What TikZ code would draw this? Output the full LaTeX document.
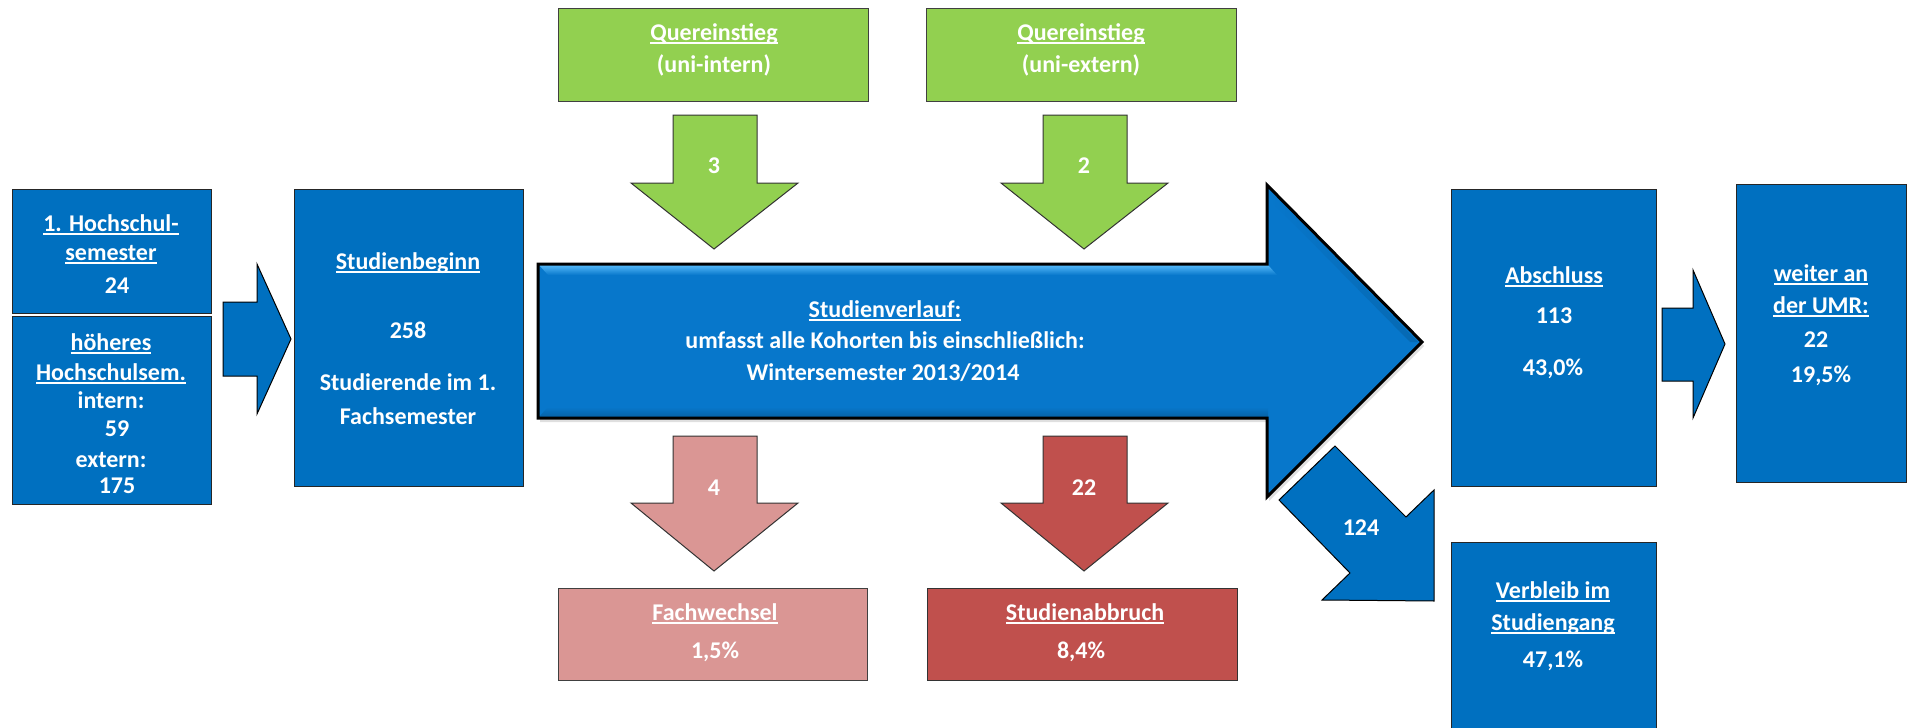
\documentclass[tikz,border=0pt]{standalone}
\usepackage{fontspec}
\setmainfont{Carlito}
\usetikzlibrary{shadows}
\definecolor{boxblue}{HTML}{0070C0}
\definecolor{arrowblue}{HTML}{0777CB}
\definecolor{hiblue}{HTML}{55B8F8}
\definecolor{qgreen}{HTML}{92D050}
\definecolor{fpink}{HTML}{DA9694}
\definecolor{sred}{HTML}{C0504D}
\newcommand{\uln}[1]{\setbox0\hbox{#1}\rlap{\rule[-1.8pt]{\wd0}{0.75pt}}\box0}
\begin{document}
\begin{tikzpicture}[x=0.5pt,y=-0.5pt,
  lbl/.style={text=white,font=\bfseries\fontsize{12}{14}\selectfont,anchor=base,inner sep=0pt},
  bbox/.style={fill=boxblue,draw=black!85,line width=0.5pt,inner sep=0pt},
  gbox/.style={fill=qgreen,draw=black!75,line width=0.5pt,inner sep=0pt},
  pbox/.style={fill=fpink,draw=black!75,line width=0.5pt,inner sep=0pt},
  rbox/.style={fill=sred,draw=black!80,line width=0.5pt,inner sep=0pt},
  barrow/.style={fill=boxblue,draw=black,line width=0.5pt,line join=miter},
]
\useasboundingbox (0,0) rectangle (1907,728);

% ---------- boxes ----------
\node[bbox,minimum width=99.5pt,minimum height=62pt] (hs1) at (111.5,251) {};
\node[bbox,minimum width=99.5pt,minimum height=94pt] (hs2) at (111.5,410) {};
\node[bbox,minimum width=114.5pt,minimum height=148.5pt] (beg) at (408.5,337.5) {};
\node[gbox,minimum width=155pt,minimum height=46.5pt] (q1) at (713,54.5) {};
\node[gbox,minimum width=155pt,minimum height=46.5pt] (q2) at (1081,54.5) {};
\node[pbox,minimum width=154.5pt,minimum height=46pt] (fw) at (712.5,634) {};
\node[rbox,minimum width=155pt,minimum height=46pt] (sa) at (1082,634) {};
\node[bbox,minimum width=102.5pt,minimum height=148.5pt] (ab) at (1553.5,337.5) {};
\node[bbox,minimum width=85pt,minimum height=149pt] (wt) at (1821,333) {};
\node[bbox,minimum width=102.5pt,minimum height=109pt] (vb) at (1553.5,651) {};

% ---------- block arrows ----------
\draw[barrow] (223,302) -- (257,302) -- (257,264) -- (291,339) -- (257,414) -- (257,376) -- (223,376) -- cycle;
\draw[barrow] (1662,308) -- (1693,308) -- (1693,270) -- (1725,344) -- (1693,418) -- (1693,381) -- (1662,381) -- cycle;
\draw[fill=qgreen,draw=black!80,line width=0.5pt] (673,115) -- (757,115) -- (757,183) -- (798,183) -- (714,249) -- (631,183) -- (673,183) -- cycle;
\draw[fill=qgreen,draw=black!80,line width=0.5pt] (1043,115) -- (1127,115) -- (1127,183) -- (1168,183) -- (1084,249) -- (1001,183) -- (1043,183) -- cycle;
\draw[fill=fpink,draw=black!80,line width=0.5pt] (673,436) -- (757,436) -- (757,503) -- (798,503) -- (714,571) -- (631,503) -- (673,503) -- cycle;
\draw[fill=sred,draw=black!80,line width=0.5pt] (1043,436) -- (1127,436) -- (1127,503) -- (1168,503) -- (1084,571) -- (1001,503) -- (1043,503) -- cycle;
\draw[barrow] (1279,500) -- (1335,446) -- (1406,517) -- (1434,490) -- (1434,601) -- (1322,600) -- (1350,573) -- cycle;

% big arrow
\path[fill=arrowblue,drop shadow={opacity=0.25,shadow xshift=1pt,shadow yshift=-2pt}]
  (538,264) -- (1267,264) -- (1267,185) -- (1422,342) -- (1267,497) -- (1267,418) -- (538,418) -- cycle;
\shade[top color=hiblue,bottom color=arrowblue] (539,265) -- (1268,265) -- (1277,275) -- (548,275) -- cycle;
\shade[left color=arrowblue,right color=arrowblue!88!black] (1269,190) -- (1418,342) -- (1410,342) -- (1269,199) -- cycle;
\shade[top color=arrowblue,bottom color=arrowblue!82!black] (548,407) -- (1268,407) -- (1268,417) -- (539,417) -- cycle;
\draw[line width=1.5pt,line join=miter]
  (538,264) -- (1267,264) -- (1267,185) -- (1422,342) -- (1267,497) -- (1267,418) -- (538,418) -- cycle;

% ---------- texts ----------
\node[lbl] (t1a) at (111,231) {\uln{1. Hochschul-}};
\node[lbl] (t1b) at (111,260) {\uln{semester}};
\node[lbl] (t1c) at (117,293) {24};
\node[lbl] (t2a) at (111,350) {\uln{höheres}};
\node[lbl] (t2b) at (111,380) {\uln{Hochschulsem.}};
\node[lbl] (t2c) at (111,408) {intern:};
\node[lbl] (t2d) at (117,436) {59};
\node[lbl] (t2e) at (111,467) {extern:};
\node[lbl] (t2f) at (117,493) {175};

\node[lbl] (tba) at (408,269) {\uln{Studienbeginn}};
\node[lbl] (tbb) at (408,338) {258};
\node[lbl] (tbc) at (408,390) {Studierende im 1.};
\node[lbl] (tbd) at (408,424) {Fachsemester};

\node[lbl] (tva) at (885,317) {\uln{Studienverlauf:}};
\node[lbl] (tvb) at (885,348) {umfasst alle Kohorten bis einschließlich:};
\node[lbl] (tvc) at (883,380) {Wintersemester 2013/2014};

\node[lbl] (tq1a) at (714,40) {\uln{Quereinstieg}};
\node[lbl] (tq1b) at (714,72) {(uni-intern)};
\node[lbl] (tq2a) at (1081,40) {\uln{Quereinstieg}};
\node[lbl] (tq2b) at (1081,72) {(uni-extern)};
\node[lbl] (n3) at (714,173) {3};
\node[lbl] (n2) at (1084,173) {2};
\node[lbl] (n4) at (714,495) {4};
\node[lbl] (n22) at (1084,495) {22};

\node[lbl] (tfa) at (715,620) {\uln{Fachwechsel}};
\node[lbl] (tfb) at (715,658) {1,5\%};
\node[lbl] (tsa) at (1085,620) {\uln{Studienabbruch}};
\node[lbl] (tsb) at (1081,658) {8,4\%};

\node[lbl] (taa) at (1554,283) {\uln{Abschluss}};
\node[lbl] (tab) at (1554,323) {113};
\node[lbl] (tac) at (1553,375) {43,0\%};

\node[lbl] (twa) at (1821,281) {\uln{weiter an}};
\node[lbl] (twb) at (1821,313) {\uln{der UMR:}};
\node[lbl] (twc) at (1816,347) {22};
\node[lbl] (twd) at (1821,382) {19,5\%};

\node[lbl] (tvba) at (1553,598) {\uln{Verbleib im}};
\node[lbl] (tvbb) at (1553,630) {\uln{Studiengang}};
\node[lbl] (tvbc) at (1553,667) {47,1\%};

\node[lbl] (n124) at (1361,535) {124};
\end{tikzpicture}
\end{document}
